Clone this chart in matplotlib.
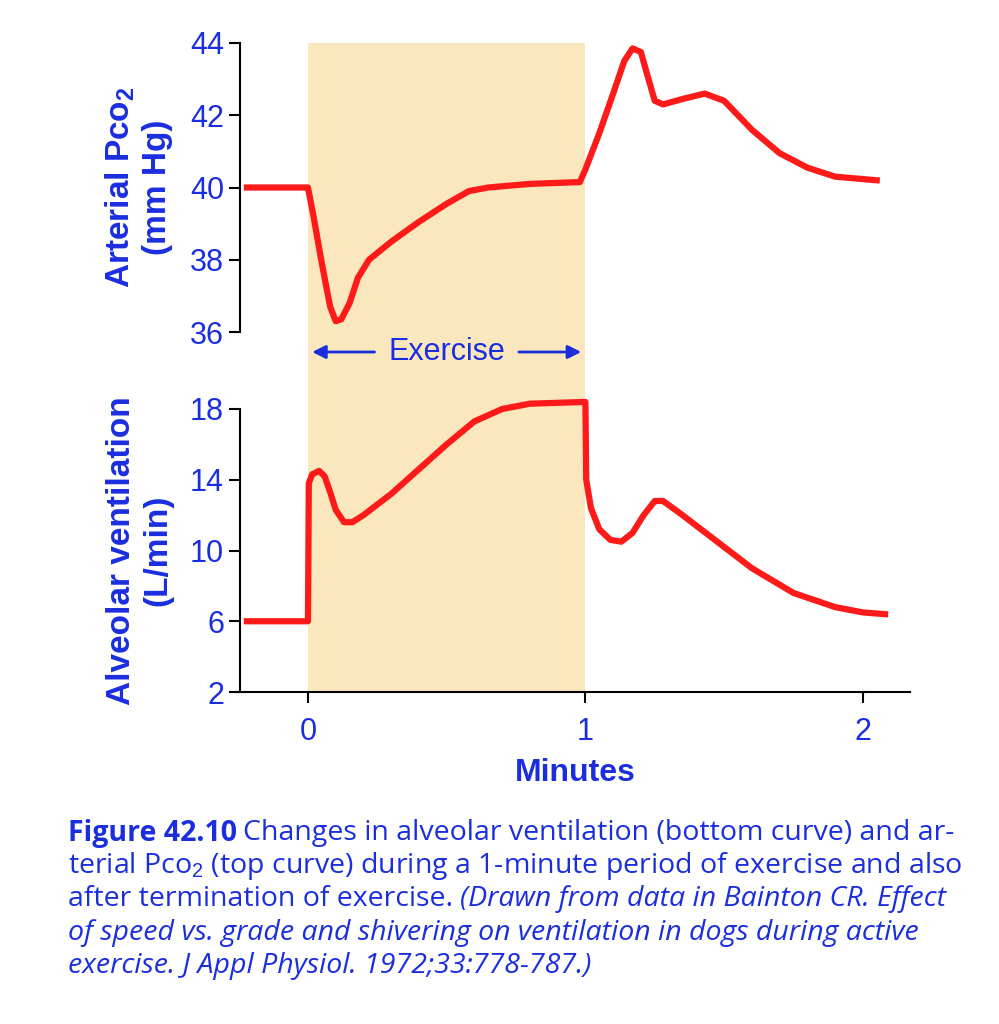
import matplotlib
matplotlib.use("Agg")
import matplotlib.pyplot as plt
from matplotlib.patches import Rectangle, FancyArrowPatch

plt.rcParams['font.family'] = ['Liberation Sans', 'DejaVu Sans']
plt.rcParams['mathtext.fontset'] = 'custom'
plt.rcParams['mathtext.rm'] = 'Liberation Sans'
plt.rcParams['mathtext.bf'] = 'Liberation Sans:bold'

BLUE = '#1a2ee0'
RED = '#ff1a1a'
SHADE = '#fbe7bd'

# arterial Pco2 (mm Hg) vs minutes
pco2_t = [-0.22, 0, 0.02, 0.05, 0.08, 0.1, 0.12, 0.15, 0.18, 0.22, 0.3, 0.4, 0.5, 0.58, 0.65,
          0.8, 0.98, 1.0, 1.05, 1.1, 1.14, 1.17, 1.2, 1.22, 1.25, 1.28, 1.35, 1.43, 1.5,
          1.6, 1.7, 1.8, 1.9, 2.05]
pco2_v = [40, 40, 39.2, 37.9, 36.7, 36.3, 36.35, 36.8, 37.5, 38.0, 38.5, 39.05, 39.55, 39.9, 40.0,
          40.1, 40.15, 40.5, 41.5, 42.6, 43.5, 43.85, 43.75, 43.2, 42.4, 42.3, 42.45, 42.6, 42.4,
          41.6, 40.95, 40.55, 40.3, 40.2]

# alveolar ventilation (L/min) vs minutes
vent_t = [-0.22, 0, 0.003, 0.015, 0.04, 0.06, 0.08, 0.1, 0.13, 0.16, 0.2, 0.3, 0.4, 0.5, 0.6,
          0.7, 0.8, 1.0, 1.003, 1.02, 1.05, 1.09, 1.13, 1.17, 1.21, 1.25, 1.28, 1.35, 1.45,
          1.6, 1.75, 1.9, 2.0, 2.08]
vent_v = [6, 6, 13.8, 14.3, 14.5, 14.2, 13.3, 12.3, 11.6, 11.6, 12.0, 13.2, 14.6, 16.0, 17.3,
          18.0, 18.3, 18.4, 14.0, 12.4, 11.2, 10.6, 10.5, 11.0, 12.0, 12.8, 12.8, 12.0, 10.8,
          9.0, 7.6, 6.8, 6.5, 6.4]

fig = plt.figure(figsize=(9.99, 10.24), dpi=100)
xl, xr = -0.245, 2.17
axl, axw = 240 / 999, 670 / 999

ax1 = fig.add_axes([axl, 1 - 332 / 1024, axw, 289 / 1024])
ax2 = fig.add_axes([axl, 1 - 692 / 1024, axw, 283 / 1024])

for ax in (ax1, ax2):
    ax.set_facecolor('none')
    ax.set_xlim(xl, xr)
    for s in ('top', 'right'):
        ax.spines[s].set_visible(False)
    ax.spines['left'].set_linewidth(1.5)
    ax.spines['bottom'].set_linewidth(1.5)
    ax.tick_params(labelsize=22, labelcolor=BLUE, width=1.5, length=8)

ax1.spines['bottom'].set_visible(False)
ax1.set_xticks([])
ax1.set_ylim(36, 44)
ax1.set_yticks([36, 38, 40, 42, 44])
ax1.plot(pco2_t, pco2_v, color=RED, lw=4.5, clip_on=False, solid_joinstyle='round')
ax1.set_ylabel('Arterial Pco$_\\mathbf{2}$\n(mm Hg)', color=BLUE, fontsize=24,
               fontweight='bold', labelpad=12)

ax2.set_ylim(2, 18)
ax2.set_yticks([2, 6, 10, 14, 18])
ax2.set_xticks([0, 1, 2])
ax2.tick_params(axis='x', pad=10)
ax2.plot(vent_t, vent_v, color=RED, lw=4.5, clip_on=False, solid_joinstyle='round')
ax2.set_ylabel('Alveolar ventilation\n(L/min)', color=BLUE, fontsize=24,
               fontweight='bold', labelpad=12)
ax2.set_xlabel('Minutes', color=BLUE, fontsize=23, fontweight='bold', labelpad=8)

# shaded exercise period spanning both panels
def fx(x):
    return axl + (x - xl) / (xr - xl) * axw
fig.patches.append(Rectangle((fx(0), 1 - 692 / 1024), fx(1) - fx(0), 649 / 1024,
                             transform=fig.transFigure, facecolor=SHADE, zorder=-1))

ya = 1 - 352 / 1024
fig.text(fx(0.5), ya, 'Exercise', color=BLUE, fontsize=22, ha='center', va='center')
for x0, x1 in ((fx(0.25), fx(0.005)), (fx(0.75), fx(0.995))):
    fig.patches.append(FancyArrowPatch(
        (x0, ya), (x1, ya), transform=fig.transFigure, arrowstyle='-|>',
        mutation_scale=20, color=BLUE, lw=2, zorder=-0.5))

# caption
cap_font = ['Open Sans', 'DejaVu Sans']
cx, fs = 68 / 999, 20.5
t = fig.text(cx, 1 - 833 / 1024, 'Figure 42.10', color=BLUE, fontsize=fs, fontweight='bold',
             family=cap_font, va='center')
fig.canvas.draw()
fig.text(t.get_window_extent().x1 / 999 + 0.006, 1 - 833 / 1024,
         'Changes in alveolar ventilation (bottom curve) and ar-', color=BLUE, fontsize=fs,
         family=cap_font, va='center')
lines = [
    ('terial Pco$_2$ (top curve) during a 1-minute period of exercise and also', 'normal'),
    ('after termination of exercise. ', 'normal'),
    ('of speed vs. grade and shivering on ventilation in dogs during active', 'italic'),
    ('exercise. J Appl Physiol. 1972;33:778-787.)', 'italic'),
]
for i, (s, st) in enumerate(lines):
    tt = fig.text(cx, 1 - (866 + 33.3 * i) / 1024, s, color=BLUE, fontsize=fs,
                  family=cap_font, style=st, va='center')
    if i == 1:
        fig.canvas.draw()
        fig.text(tt.get_window_extent().x1 / 999, 1 - (866 + 33.3 * i) / 1024,
                 '(Drawn from data in Bainton CR. Effect', color=BLUE, fontsize=fs,
                 family=cap_font, style='italic', va='center')

fig.savefig('out.png', dpi=100)
